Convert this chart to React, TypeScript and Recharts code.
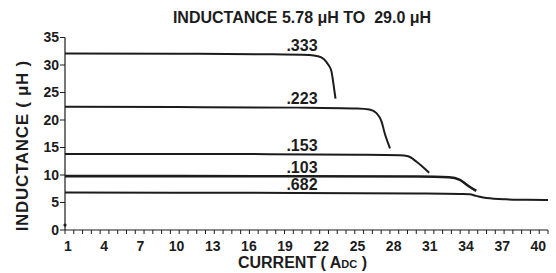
import React from 'react';
import { LineChart, Line, XAxis, YAxis, ReferenceDot } from 'recharts';

// current (A) / inductance (uH)
const curve333 = [
  { x: 0.75, y: 32.1 }, { x: 10, y: 32.05 }, { x: 18, y: 31.95 }, { x: 21, y: 31.8 },
  { x: 21.7, y: 31.6 }, { x: 22.2, y: 31.1 }, { x: 22.6, y: 30.0 }, { x: 22.85, y: 28.8 },
  { x: 23.0, y: 26.7 }, { x: 23.18, y: 23.9 },
];
const curve223 = [
  { x: 0.75, y: 22.4 }, { x: 10, y: 22.35 }, { x: 20, y: 22.25 }, { x: 25, y: 22.1 },
  { x: 26, y: 21.9 }, { x: 26.6, y: 21.2 }, { x: 27.0, y: 19.7 }, { x: 27.26, y: 17.6 },
  { x: 27.7, y: 14.85 },
];
const curve153 = [
  { x: 0.75, y: 13.8 }, { x: 15, y: 13.8 }, { x: 25, y: 13.7 }, { x: 28.5, y: 13.6 },
  { x: 29.2, y: 13.4 }, { x: 29.9, y: 12.4 }, { x: 30.4, y: 11.5 }, { x: 30.95, y: 10.4 },
];
const curve103 = [
  { x: 0.75, y: 9.8 }, { x: 20, y: 9.78 }, { x: 30, y: 9.72 }, { x: 32.6, y: 9.6 },
  { x: 33.5, y: 9.1 }, { x: 34.2, y: 8.0 }, { x: 34.85, y: 7.1 },
];
const curve682 = [
  { x: 0.75, y: 6.8 }, { x: 20, y: 6.75 }, { x: 30, y: 6.65 }, { x: 33.5, y: 6.55 },
  { x: 34.3, y: 6.5 }, { x: 34.85, y: 6.2 }, { x: 35.7, y: 5.8 }, { x: 37.3, y: 5.57 },
  { x: 39, y: 5.5 }, { x: 40.8, y: 5.45 },
];

const seriesNames = ['.333', '.223', '.153', '.103', '.682'];
const seriesData = [curve333, curve223, curve153, curve103, curve682];
const seriesWidth = [2, 2, 2, 2.6, 2];
const labelX = 20.4;
const labelLevel = [32.0, 22.3, 13.8, 9.8, 6.8];

const xTicks = [1, 4, 7, 10, 13, 16, 19, 22, 25, 28, 31, 34, 37, 40];
const yTicks = [0, 5, 10, 15, 20, 25, 30, 35];
const xDomain = [0.75, 40.8];
const minorCount = 55;
const minorTicks = Array.from({ length: minorCount + 1 }, (_, i) => xDomain[0] + (i * (xDomain[1] - xDomain[0])) / minorCount);
const allXTicks = [...minorTicks, ...xTicks].sort((a, b) => a - b);

const FONT = 'Arial, "Liberation Sans", sans-serif';
const INK = '#1c1c1c';

// minor ticks get a short line, labelled ticks get only their number
const XTick = (props: any) => {
  const v = props.payload.value;
  if (xTicks.includes(v)) {
    return (
      <text x={props.x} y={props.y + 17} textAnchor="middle" fill={INK} fontSize={14} fontWeight="bold">
        {v}
      </text>
    );
  }
  return <line x1={props.x} x2={props.x} y1={props.y - 4} y2={props.y} stroke={INK} strokeWidth={1} />;
};

const App: React.FC = () => {
  return (
    <div style={{ position: 'absolute', left: 0, top: 0, width: 556, height: 273, background: '#fff', fontFamily: FONT }}>
      <div style={{ position: 'absolute', top: 9, left: 0, width: 604, textAlign: 'center', fontSize: 16, fontWeight: 'bold', color: INK, whiteSpace: 'pre' }}>
        {'INDUCTANCE 5.78 \u03bcH TO  29.0 \u03bcH'}
      </div>
      <LineChart width={556} height={273} margin={{ top: 37.5, right: 8, left: 0, bottom: 0 }} style={{ fontFamily: FONT }}>
        <XAxis
          type="number"
          dataKey="x"
          domain={xDomain}
          ticks={allXTicks}
          allowDataOverflow
          height={43}
          tickLine={false}
          interval={0}
          axisLine={{ stroke: INK, strokeWidth: 1.2 }}
          tick={<XTick />}
          tickSize={4}
          tickMargin={0}
          label={{
            content: ({ viewBox }: any) => (
              <text x={viewBox.x + viewBox.width / 2 - 4} y={viewBox.y + 38} textAnchor="middle" fill={INK} fontSize={16} fontWeight="bold">
                CURRENT ( A<tspan fontSize={11}>DC</tspan> )
              </text>
            ),
          }}
        />
        <YAxis
          type="number"
          domain={[0, 35]}
          ticks={yTicks}
          width={65}
          tickSize={5}
          tickMargin={1}
          axisLine={{ stroke: INK, strokeWidth: 1.2 }}
          tickLine={{ stroke: INK }}
          tick={{ fill: INK, fontSize: 14, fontWeight: 'bold' }}
          label={{
            content: ({ viewBox }: any) => {
              const cx = viewBox.x + 22.5;
              const cy = viewBox.y + viewBox.height / 2 + 12;
              return (
                <text x={cx} y={cy} transform={`rotate(-90 ${cx} ${cy})`} textAnchor="middle" dominantBaseline="central" fill={INK} fontSize={17} letterSpacing={0.7} fontWeight="bold">
                  INDUCTANCE ( {'\u03bc'}H )
                </text>
              );
            },
          }}
        />
        {seriesData.map((d, i) => (
          <Line
            key={seriesNames[i]}
            data={d}
            dataKey="y"
            type="monotone"
            stroke={INK}
            strokeWidth={seriesWidth[i]}
            dot={false}
            activeDot={false}
            isAnimationActive={false}
          />
        ))}
        {seriesNames.map((name, i) => (
          <ReferenceDot
            key={'lbl' + name}
            x={labelX}
            y={labelLevel[i]}
            r={0}
            stroke="none"
            fill="none"
            label={{ value: name, position: 'top', offset: 3, fill: INK, fontSize: 16, fontWeight: 'bold' }}
          />
        ))}
        <ReferenceDot x={xDomain[0]} y={0.9} r={1.6} fill={INK} stroke="none" />
      </LineChart>
    </div>
  );
};

export default App;
